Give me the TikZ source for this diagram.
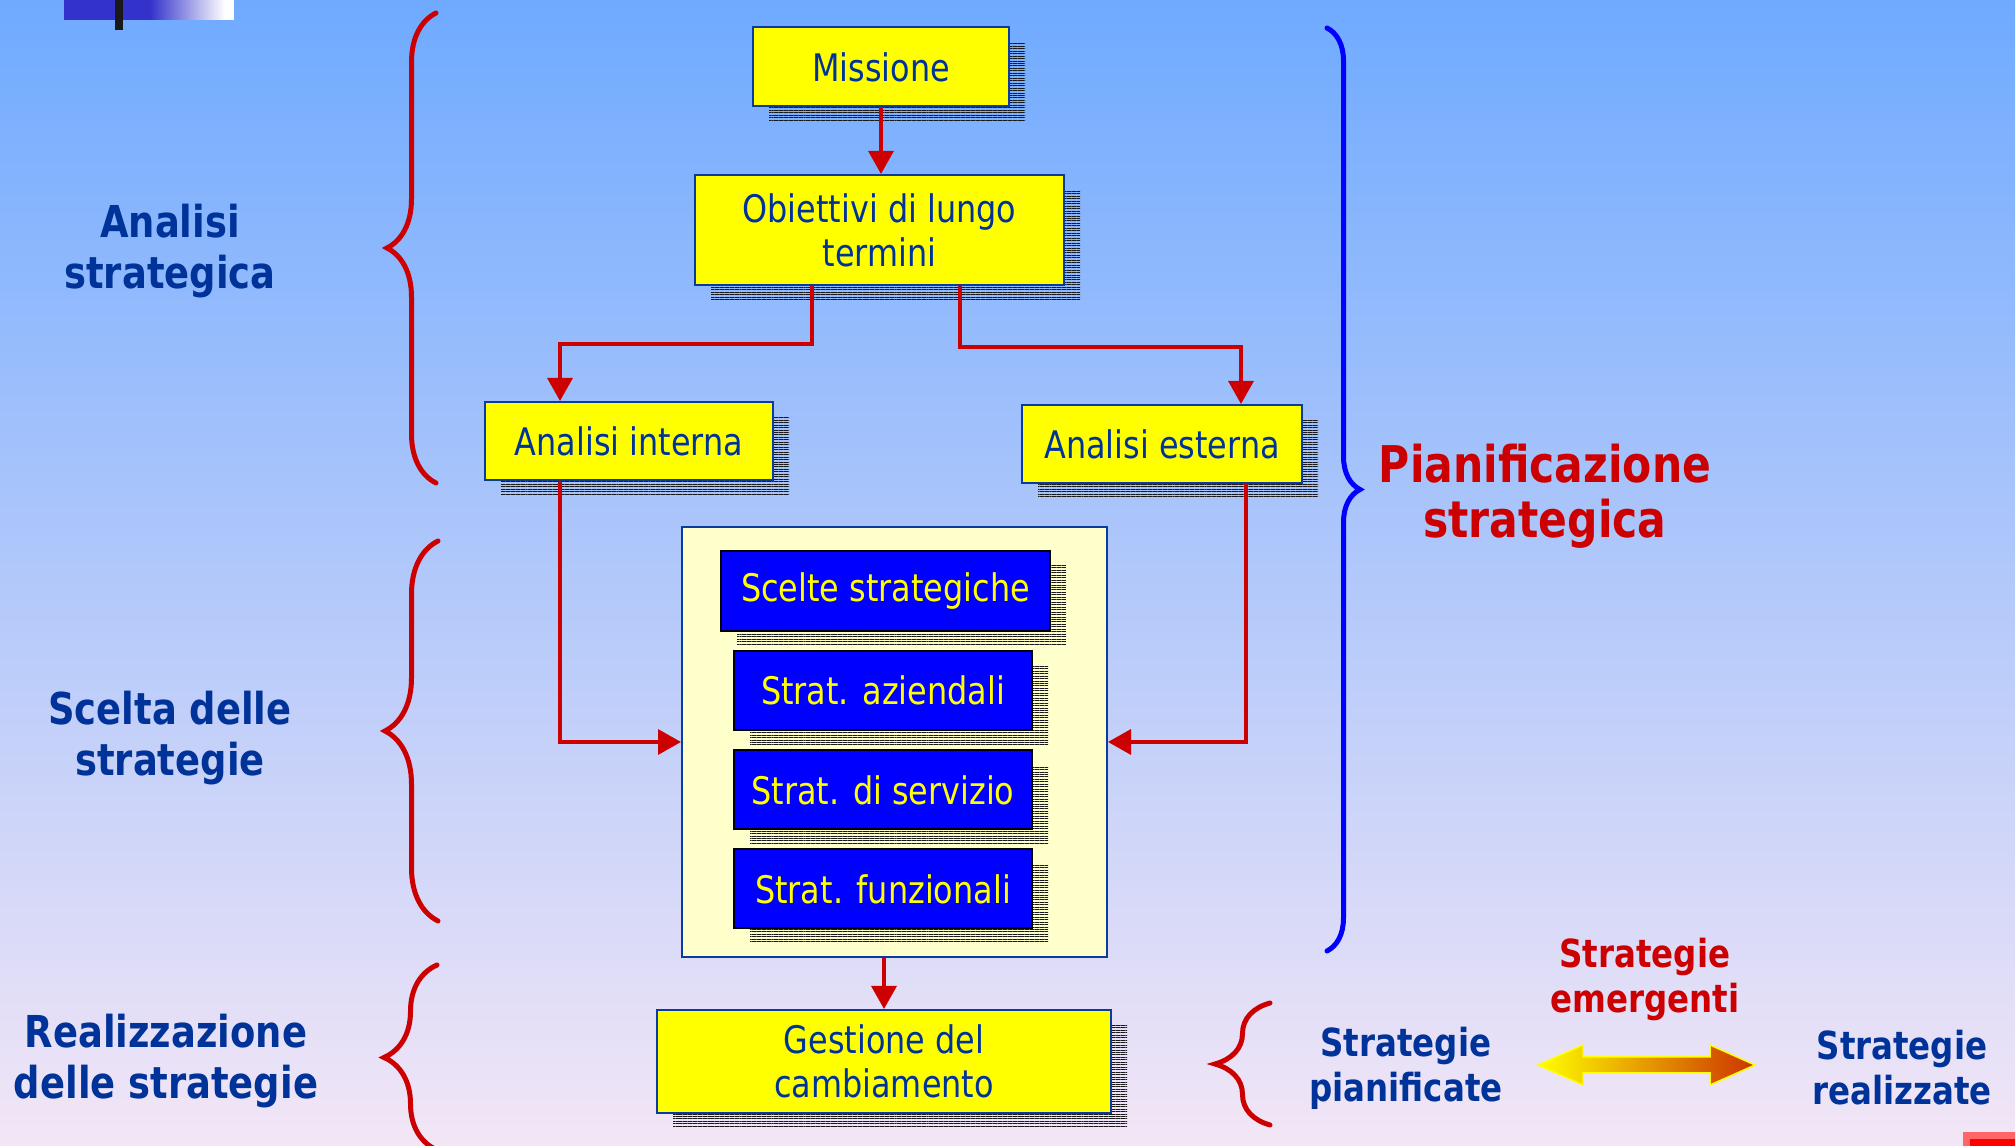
\documentclass[tikz,border=0pt]{standalone}
\usepackage{fontspec}
\setmainfont{DejaVu Sans}[FakeStretch=0.84]
\usepackage{tikz}
\usetikzlibrary{arrows.meta, positioning, shadows, patterns.meta, decorations.pathreplacing}
\definecolor{navy}{HTML}{003399}
\definecolor{rosso}{HTML}{CC0000}
\definecolor{giallo}{HTML}{FFFF00}
\definecolor{blu}{HTML}{0000FF}
\definecolor{crema}{HTML}{FFFFCC}
\definecolor{bordo}{HTML}{0A3CA0}
\definecolor{cielo}{HTML}{6FAAFF}
\definecolor{cielomid}{HTML}{B0CCF0}
\definecolor{rosa}{HTML}{F3E6F6}
\definecolor{deco}{HTML}{3333CC}
\definecolor{arancio}{HTML}{CC3300}

\begin{document}
\begin{tikzpicture}[x=0.1mm, y=-0.1mm,
        righe/.style={general shadow={shadow xshift=1.6mm, shadow yshift=-1.5mm,
                pattern={Lines[distance=0.7pt, line width=0.28pt]}, pattern color=black!90}},
        gialla/.style={rectangle, draw=bordo, line width=0.2mm, fill=giallo, text=navy,
                inner sep=0pt, align=center, font=\fontsize{10.8}{12.5}\selectfont, righe},
        blubox/.style={rectangle, draw=black, line width=0.2mm, fill=blu, text=giallo,
                inner sep=0pt, minimum width=29.8mm, minimum height=7.9mm,
                font=\fontsize{10.8}{12.5}\selectfont, righe},
        etichetta/.style={text=navy, align=center, font=\bfseries\fontsize{12.5}{14.5}\selectfont},
        freccia/.style={-{Triangle[length=2.3mm, width=2.5mm]}, draw=rosso, line width=0.33mm},
        graffa/.style={decorate, decoration={brace, amplitude=#1}, line width=0.5mm, line cap=round}]
        \useasboundingbox (0,0) rectangle (2015,1146);
        \shade[top color=cielo, middle color=cielomid, bottom color=rosa] (0,0) rectangle (2015,1146);
        \fill[deco] (64,0) rectangle (150,20);
        \shade[left color=deco, right color=white] (150,0) rectangle (225,20);
        \fill[white] (225,0) rectangle (234,20);
        \fill[black!90] (115,0) rectangle (123,30);
        \fill[red!60] (1963,1132) rectangle (2015,1146);
        \fill[red] (1970,1139) rectangle (2015,1146);

        %----------------  analisi  ----------------
        \node[gialla, minimum width=25.6mm, minimum height=7.9mm] (missione) at (881,67) {Missione};
        \node[gialla, minimum width=36.9mm, minimum height=11mm] (obiettivi) at (879.5,230) {Obiettivi di lungo\\termini};
        \node[gialla, minimum width=28.8mm, minimum height=7.8mm] (intAnalisi) at (629,441) {Analisi interna};
        \node[gialla, minimum width=28mm, minimum height=7.8mm] (estAnalisi) at (1162,444) {Analisi esterna};

        %----------------  scelta  ----------------
        \node[rectangle, draw=bordo, line width=0.2mm, fill=crema, minimum width=42.5mm,
              minimum height=43mm] (contenitore) at (894.5,742) {};
        \node[blubox, minimum width=32.9mm, minimum height=8mm] (scelte) at (885.5,591) {Scelte strategiche};
        \node[blubox] (aziendali) at (883,690.5) {Strat. aziendali};
        \node[blubox] (servizio) at (883,790) {Strat. di servizio};
        \node[blubox] (funzionali) at (883,889) {Strat. funzionali};

        %----------------  realizzazione  ----------------
        \node[gialla, minimum width=45.4mm, minimum height=10.3mm] (gestione) at (884,1061.5) {Gestione del\\cambiamento};

        \draw[freccia] (missione.south) -- (missione.south |- obiettivi.north);
        \draw[freccia] ([xshift=-6.75mm]obiettivi.south) -- ++(0,58) -| ([xshift=-6.9mm]intAnalisi.north);
        \draw[freccia] ([xshift=8.05mm]obiettivi.south) -- ++(0,61) -| ([xshift=7.9mm]estAnalisi.north);
        \draw[freccia] ([xshift=-6.9mm]intAnalisi.south) |- (contenitore.west);
        \draw[freccia] ([xshift=8.4mm]estAnalisi.south) |- (contenitore.east);
        \draw[freccia] (contenitore.south -| gestione.north) -- (gestione.north);

        %----------------  graffe ed etichette  ----------------
        \draw[graffa=4.9mm, rosso] (436,483) -- (436,13);
        \draw[graffa=5.3mm, rosso] (438,921) -- (438,541);
        \draw[graffa=5.3mm, rosso] (437,1150) -- (437,965);
        \draw[graffa=3.3mm, blu] (1327,28) -- (1327,951);
        \draw[graffa=5.5mm, rosso] (1270,1125) -- (1270,1003);

        \node[etichetta] (lblAnalisi) at (170,251) {Analisi\\strategica};
        \node[etichetta] (lblScelta) at (170,738) {Scelta delle\\strategie};
        \node[etichetta] (lblRealizz) at (166,1061) {Realizzazione\\delle strategie};
        \node[etichetta, text=rosso, font=\bfseries\fontsize{14.4}{15.7}\selectfont] (lblPianif) at (1545,496) {Pianificazione\\strategica};
        \node[etichetta, text=rosso, font=\bfseries\fontsize{11}{12.8}\selectfont] (lblEmerg) at (1645,979) {Strategie\\emergenti};
        \node[etichetta, font=\bfseries\fontsize{11}{12.8}\selectfont] (lblPianificate) at (1406,1068) {Strategie\\pianificate};
        \node[etichetta, font=\bfseries\fontsize{11}{12.8}\selectfont] (lblRealizzate) at (1902,1068) {Strategie\\realizzate};

        \shade[left color=giallo, right color=arancio, draw=giallo, line width=0.15mm]
        (1538,1065) -- (1583,1045) -- (1583,1057) -- (1710,1057) -- (1710,1045) -- (1755,1065)
        -- (1710,1085) -- (1710,1073) -- (1583,1073) -- (1583,1085) -- cycle;

        \end{tikzpicture}
\end{document}
